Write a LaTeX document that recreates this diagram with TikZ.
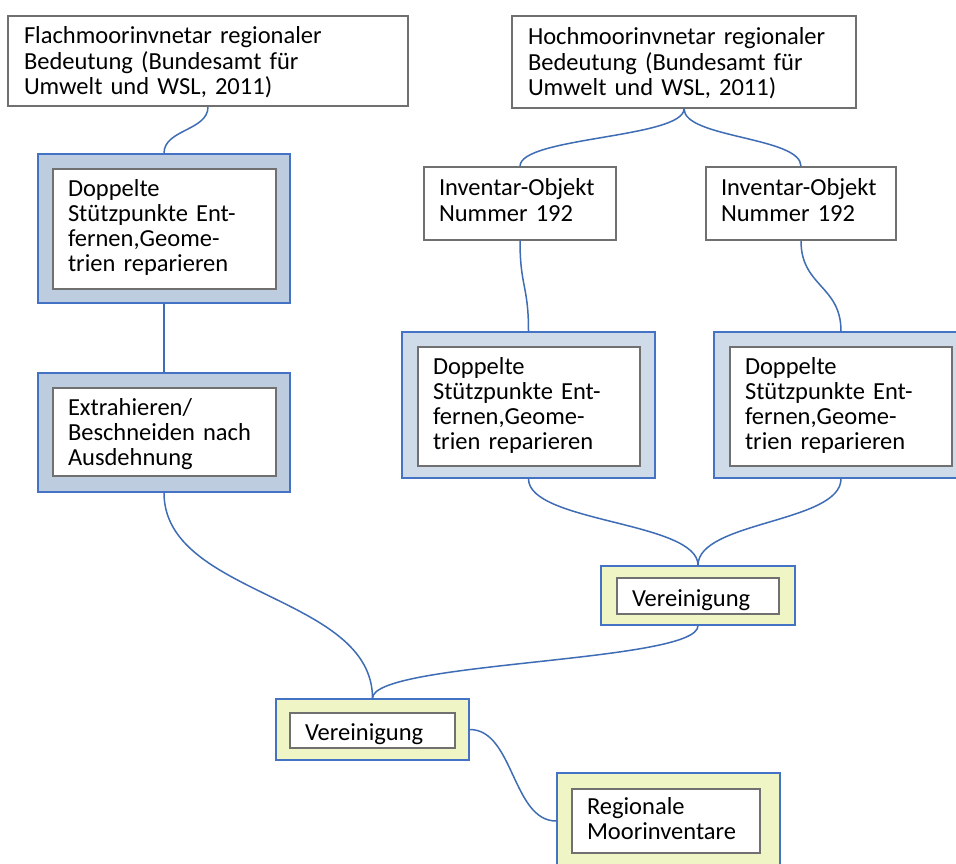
\documentclass[tikz,border=0pt]{standalone}
\usepackage{fontspec}
\setmainfont{Carlito}
\definecolor{linkblue}{HTML}{3F6DB5}
\definecolor{frameblue}{HTML}{4472C4}
\definecolor{fillA}{HTML}{BDCCDF}
\definecolor{fillB}{HTML}{CFDBE8}
\definecolor{fillY}{HTML}{EFF5C4}
\definecolor{cardgray}{HTML}{707070}
% invisible rules that push a text block down (#1) or up (#2) inside its box
\newcommand\pushdown[1]{\rule{0pt}{#1}}
\newcommand\pushup[1]{\rule[-#1]{0pt}{0pt}}
\begin{document}
\begin{tikzpicture}[x=1pt,y=-1pt,
  conn/.style={draw=linkblue, line width=1.5pt},
  frame/.style={draw=frameblue, line width=1.5pt, inner sep=0pt},
  frameA/.style={frame, fill=fillA},
  frameB/.style={frame, fill=fillB},
  frameY/.style={frame, fill=fillY},
  card/.style={draw=cardgray, line width=2pt, fill=white, align=left,
    font=\fontsize{24.5}{25}\selectfont, inner xsep=15pt, inner ysep=0pt,
    execute at begin node=\strut, execute at end node=\strut},
  source/.style={card, line width=1.5pt, inner xsep=16pt}]
\useasboundingbox (0,0) rectangle (956,864);
\clip (0,0) rectangle (956,864);
\fill[white] (0,0) rectangle (956,864);

% source inventories
\node[source, text width=368pt, minimum height=90pt] (fm) at (208,61)
  {\pushdown{23pt}Flachmoorinvnetar regionaler\\Bedeutung (Bundesamt für\\Umwelt und WSL, 2011)};
\node[source, text width=312pt, minimum height=92pt] (hm) at (684,62)
  {\pushdown{23pt}Hochmoorinvnetar regionaler\\Bedeutung (Bundesamt für\\Umwelt und WSL, 2011)};

% selected objects
\node[card, line width=1.5pt, text width=162pt, minimum height=73pt] (io1) at (520,203.5)
  {Inventar-Objekt\\Nummer 192\pushup{6pt}};
\node[card, line width=1.5pt, text width=160pt, minimum height=73pt] (io2) at (801,203.5)
  {Inventar-Objekt\\Nummer 192\pushup{6pt}};

% left branch: cleaning and clipping
\node[frameA, minimum width=252pt, minimum height=149pt] (cl1) at (164,228.5) {};
\node[card, text width=193pt, minimum height=120pt] (cl1t) at (164.5,229)
  {Doppelte\\Stützpunkte Ent-\\fernen,Geome-\\trien reparieren};
\node[frameA, minimum width=252pt, minimum height=119pt] (ex) at (164,432.5) {};
\node[card, text width=193pt, minimum height=88pt] (ext) at (164.5,432)
  {\pushdown{25pt}Extrahieren/\\Beschneiden nach\\Ausdehnung};

% right branch: cleaning
\node[frameB, minimum width=253pt, minimum height=146pt] (cl2) at (528.5,405) {};
\node[card, text width=192pt, minimum height=119pt] (cl2t) at (529,406.5)
  {Doppelte\\Stützpunkte Ent-\\fernen,Geome-\\trien reparieren};
\node[frameB, minimum width=254pt, minimum height=146pt] (cl3) at (841,405) {};
\node[card, text width=192pt, minimum height=119pt] (cl3t) at (841,406.5)
  {Doppelte\\Stützpunkte Ent-\\fernen,Geome-\\trien reparieren};

% unions and result
\node[frameY, minimum width=194pt, minimum height=59pt] (un1) at (698,595.5) {};
\node[card, text width=132pt, minimum height=35pt] (un1t) at (698,596)
  {\pushdown{28pt}Vereinigung};
\node[frameY, minimum width=193pt, minimum height=61pt] (un2) at (372.5,729.5) {};
\node[card, text width=135pt, minimum height=35pt] (un2t) at (372.5,730.5)
  {\pushdown{28pt}Vereinigung};
\node[frameY, minimum width=223pt, minimum height=96pt] (res) at (668.5,821) {};
\node[card, text width=158pt, minimum height=64pt] (rest) at (666,821)
  {\pushdown{20pt}Regionale\\Moorinventare};

% connectors
\draw[conn] (fm.south) .. controls +(0,24) and +(0,-24) .. (cl1.north);
\draw[conn] (cl1.south) -- (ex.north);
\draw[conn] (ex.south) .. controls +(0,103.5) and +(0,-103.5) .. (un2.north);
\draw[conn] (hm.south) .. controls +(0,29.5) and +(0,-29.5) .. (io1.north);
\draw[conn] (hm.south) .. controls +(0,29.5) and +(0,-29.5) .. (io2.north);
\draw[conn] (io1.south) .. controls +(0,46) and +(0,-46) .. (cl2.north);
\draw[conn] (io2.south) .. controls +(0,46) and +(0,-46) .. (cl3.north);
\draw[conn] (cl2.south) .. controls +(0,44) and +(0,-44) .. (un1.north);
\draw[conn] (cl3.south) .. controls +(0,44) and +(0,-44) .. (un1.north);
\draw[conn] (un1.south) .. controls +(0,37) and +(0,-37) .. (un2.north);
\draw[conn] (un2.east) .. controls +(44,0) and +(-44,0) .. (res.west);
\end{tikzpicture}
\end{document}
